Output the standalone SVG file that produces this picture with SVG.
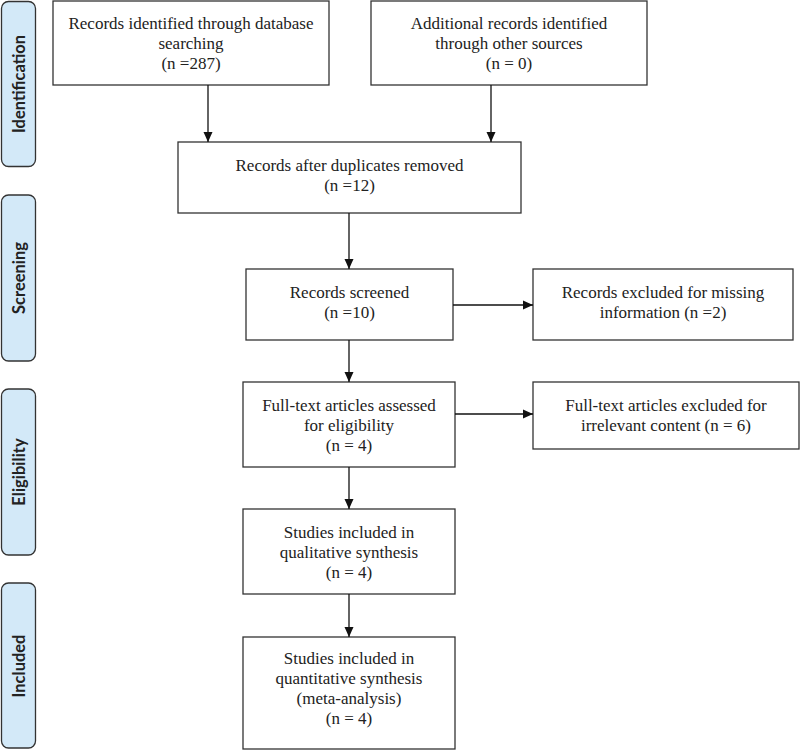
<svg xmlns="http://www.w3.org/2000/svg" width="800" height="751" viewBox="0 0 800 751">
<defs>
<marker id="ah" viewBox="0 0 10 10" refX="10" refY="5" markerWidth="10" markerHeight="10" markerUnits="userSpaceOnUse" orient="auto">
<path d="M0,0.5 L10,5 L0,9.5 z" fill="#111"/>
</marker>
<style>
.box{fill:#fff;stroke:#333;stroke-width:1.3}
.lab{fill:#d3e9f8;stroke:#333;stroke-width:1.3}
.t{font-family:'Liberation Serif','DejaVu Serif',serif;font-size:17px;fill:#222;text-anchor:middle}
.s{font-family:Lato,'Open Sans',sans-serif;font-size:16.5px;font-weight:bold;fill:#222;text-anchor:middle}
.c{stroke:#111;stroke-width:1.3;fill:none;marker-end:url(#ah)}
</style>
</defs>
<rect width="800" height="751" fill="#fff"/>
<g id="stage-identification"><rect class="lab" x="1.5" y="1.5" width="34" height="165" rx="7"/><text class="s" transform="translate(25,84) rotate(-90)">Identification</text></g>
<g id="stage-screening"><rect class="lab" x="1.5" y="195" width="34" height="166" rx="7"/><text class="s" transform="translate(25,278) rotate(-90)">Screening</text></g>
<g id="stage-eligibility"><rect class="lab" x="1.5" y="389" width="34" height="166" rx="7"/><text class="s" transform="translate(25,472) rotate(-90)">Eligibility</text></g>
<g id="stage-included"><rect class="lab" x="1.5" y="583" width="34" height="165" rx="7"/><text class="s" transform="translate(25,666) rotate(-90)">Included</text></g>

<g id="n1"><rect class="box" x="53" y="1" width="276" height="84"/>
<text class="t" x="191" y="29">Records identified through database</text>
<text class="t" x="191" y="49">searching</text>
<text class="t" x="191" y="69">(n =287)</text></g>
<g id="n2"><rect class="box" x="371" y="1" width="276" height="84"/>
<text class="t" x="509" y="29">Additional records identified</text>
<text class="t" x="509" y="49">through other sources</text>
<text class="t" x="509" y="69">(n = 0)</text></g>
<g id="n3"><rect class="box" x="178" y="142" width="343" height="71"/>
<text class="t" x="349.5" y="171">Records after duplicates removed</text>
<text class="t" x="349.5" y="191">(n =12)</text></g>
<g id="n4"><rect class="box" x="246" y="269" width="207" height="71"/>
<text class="t" x="349.5" y="298">Records screened</text>
<text class="t" x="349.5" y="318">(n =10)</text></g>
<g id="n5"><rect class="box" x="533" y="269" width="260" height="71"/>
<text class="t" x="663" y="298">Records excluded for missing</text>
<text class="t" x="663" y="318">information (n =2)</text></g>
<g id="n6"><rect class="box" x="243" y="382" width="212" height="85"/>
<text class="t" x="349" y="411">Full-text articles assessed</text>
<text class="t" x="349" y="431">for eligibility</text>
<text class="t" x="349" y="451">(n = 4)</text></g>
<g id="n7"><rect class="box" x="533" y="382" width="266" height="67"/>
<text class="t" x="666" y="411">Full-text articles excluded for</text>
<text class="t" x="666" y="431">irrelevant content (n = 6)</text></g>
<g id="n8"><rect class="box" x="243" y="509" width="212" height="85"/>
<text class="t" x="349" y="538">Studies included in</text>
<text class="t" x="349" y="558">qualitative synthesis</text>
<text class="t" x="349" y="578">(n = 4)</text></g>
<g id="n9"><rect class="box" x="243" y="637" width="212" height="112"/>
<text class="t" x="349" y="664">Studies included in</text>
<text class="t" x="349" y="684">quantitative synthesis</text>
<text class="t" x="349" y="704">(meta-analysis)</text>
<text class="t" x="349" y="724">(n = 4)</text></g>

<g id="connectors">
<line class="c" x1="208" y1="85" x2="208" y2="142"/>
<line class="c" x1="491" y1="85" x2="491" y2="142"/>
<line class="c" x1="349" y1="213" x2="349" y2="269"/>
<line class="c" x1="453" y1="305" x2="533" y2="305"/>
<line class="c" x1="349" y1="340" x2="349" y2="382"/>
<line class="c" x1="455" y1="414" x2="533" y2="414"/>
<line class="c" x1="349" y1="467" x2="349" y2="509"/>
<line class="c" x1="349" y1="594" x2="349" y2="637"/>
</g>
</svg>
